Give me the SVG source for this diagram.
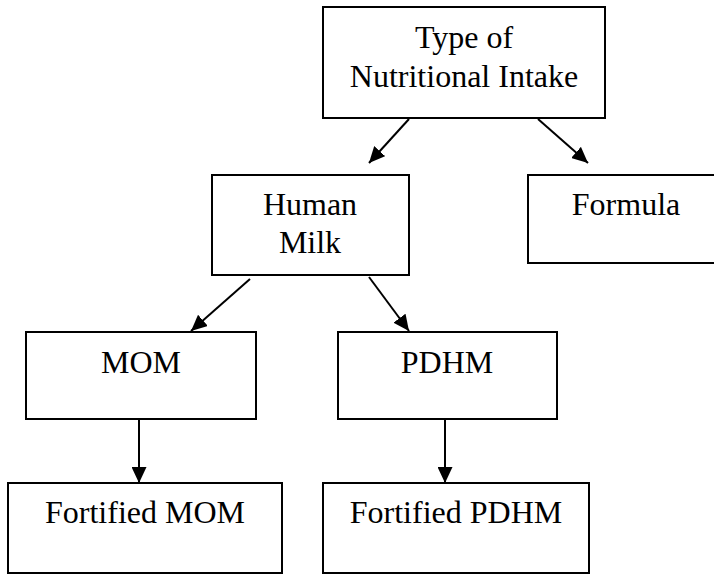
<svg xmlns="http://www.w3.org/2000/svg" width="714" height="574" viewBox="0 0 714 574">
<style>
.box{fill:#fff;stroke:#000;stroke-width:2}
.lbl{font-family:"Liberation Serif","Times New Roman",serif;font-size:32px;fill:#000;text-anchor:middle}
.edge{stroke:#000;stroke-width:2;fill:none;marker-end:url(#ah)}
</style>
<defs>
<marker id="ah" markerUnits="userSpaceOnUse" markerWidth="16" markerHeight="15" refX="16" refY="7.5" orient="auto">
<path d="M0,0 L16,7.5 L0,15 z" fill="#000"/>
</marker>
</defs>
<rect width="714" height="574" fill="#fff"/>
<g id="connectors">
<line class="edge" x1="409" y1="119" x2="369" y2="163"/>
<line class="edge" x1="538" y1="119" x2="588" y2="163"/>
<line class="edge" x1="250" y1="279" x2="191" y2="331"/>
<line class="edge" x1="369" y1="277" x2="409" y2="331"/>
<line class="edge" x1="139" y1="419" x2="139" y2="483"/>
<line class="edge" x1="445" y1="419" x2="445" y2="483"/>
</g>
<g id="node-type">
<rect class="box" x="323" y="7" width="282" height="111"/>
<text class="lbl" x="464" y="48">Type of</text>
<text class="lbl" x="464" y="87">Nutritional Intake</text>
</g>
<g id="node-human-milk">
<rect class="box" x="212" y="175" width="197" height="100"/>
<text class="lbl" x="310" y="215">Human</text>
<text class="lbl" x="310" y="253">Milk</text>
</g>
<g id="node-formula">
<rect class="box" x="528" y="175" width="196" height="88"/>
<text class="lbl" x="626" y="215">Formula</text>
</g>
<g id="node-mom">
<rect class="box" x="26" y="332" width="230" height="87"/>
<text class="lbl" x="141" y="373">MOM</text>
</g>
<g id="node-pdhm">
<rect class="box" x="338" y="332" width="219" height="87"/>
<text class="lbl" x="447" y="373">PDHM</text>
</g>
<g id="node-fortified-mom">
<rect class="box" x="8" y="483" width="274" height="90"/>
<text class="lbl" x="145" y="523">Fortified MOM</text>
</g>
<g id="node-fortified-pdhm">
<rect class="box" x="323" y="483" width="266" height="90"/>
<text class="lbl" x="456" y="523">Fortified PDHM</text>
</g>
</svg>
